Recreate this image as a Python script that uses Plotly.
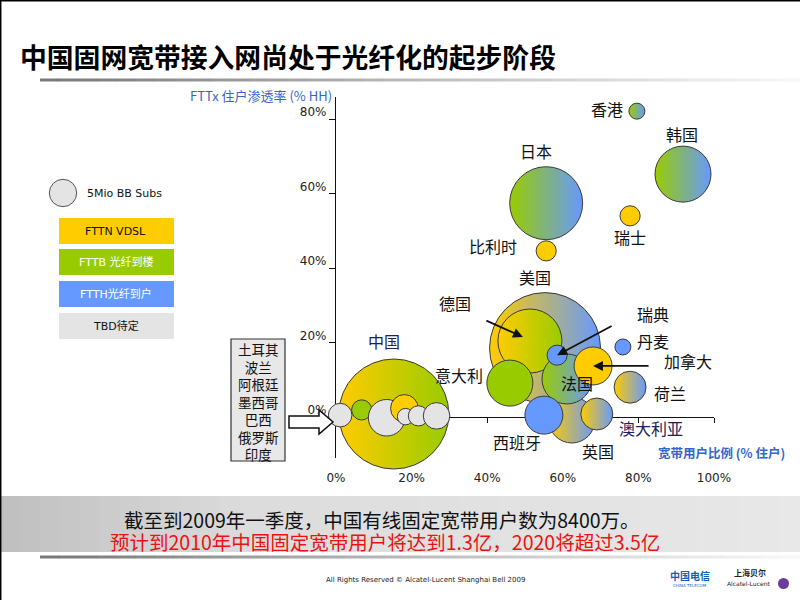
import plotly.graph_objects as go

# ---------------- data ----------------
countries = ["美国", "英国", "德国", "意大利", "法国", "西班牙", "澳大利亚", "加拿大",
             "瑞典", "丹麦", "荷兰", "日本", "比利时", "韩国", "瑞士", "香港", "中国",
             "印度", "俄罗斯", "巴西", "土耳其", "阿根廷", "墨西哥", "波兰"]
bb_share = [55.3, 62.4, 51.3, 46.0, 61.1, 55.0, 69.0, 68.0,
            58.5, 75.9, 77.8, 55.6, 55.6, 91.8, 77.8, 79.6, 15.3,
            1.1, 6.8, 13.4, 18.1, 18.4, 21.8, 26.6]
fttx_share = [18.5, -0.8, 20.4, 9.1, 10.2, 0.5, 0.8, 13.7,
              16.6, 18.8, 8.0, 57.4, 44.6, 65.2, 54.0, 82.1, 0.8,
              0.5, 1.9, -0.2, 2.3, 0.1, 0.3, 0.3]
bb_subs_mio = [82, 14.1, 27.3, 14.1, 16.6, 9.6, 6.8, 9.6,
               2.7, 1.7, 6.8, 35.5, 2.7, 20.9, 2.7, 1.7, 80.6,
               3.7, 2.7, 8.9, 5.1, 1.8, 2.7, 4.7]
tech_left = ["FTTN", "FTTN", "FTTN", "FTTB", "FTTB", "FTTH", "FTTN", "FTTN",
             "FTTH", "FTTH", "FTTN", "FTTB", "FTTN", "FTTB", "FTTN", "FTTB", "FTTN",
             "TBD", "FTTB", "TBD", "FTTN", "TBD", "TBD", "TBD"]
tech_right = ["FTTH", "FTTH", "FTTB", "FTTB", "FTTH", "FTTH", "FTTH", "FTTN",
              "FTTH", "FTTH", "FTTH", "FTTH", "FTTN", "FTTH", "FTTN", "FTTH", "FTTB",
              "TBD", "FTTB", "TBD", "FTTN", "TBD", "TBD", "TBD"]

x_ticks = [0, 20, 40, 60, 80, 100]
x_tick_labels = ["0%", "20%", "40%", "60%", "80%", "100%"]
y_ticks = [0, 20, 40, 60, 80]
y_tick_labels = ["0%", "20%", "40%", "60%", "80%"]

legend_labels = ["FTTN VDSL", "FTTB 光纤到楼", "FTTH光纤到户", "TBD待定"]
legend_techs = ["FTTN", "FTTB", "FTTH", "TBD"]
legend_bubble_mio = 5
other_countries = ["土耳其", "波兰", "阿根廷", "墨西哥", "巴西", "俄罗斯", "印度"]

title_text = "中国固网宽带接入网尚处于光纤化的起步阶段"
y_title = "FTTx 住户渗透率 (% HH)"
x_title = "宽带用户比例 (% 住户)"
note1 = "截至到2009年一季度，中国有线固定宽带用户数为8400万。"
note2 = "预计到2010年中国固定宽带用户将达到1.3亿，2020将超过3.5亿"
footer = "All Rights Reserved © Alcatel-Lucent Shanghai Bell 2009"

# ---------------- styling ----------------
W, H = 800, 600
CJK = "Noto Sans CJK SC"
LAT = "DejaVu Sans"
TECH_COLORS = {"FTTN": "#FFCC00", "FTTB": "#99CC00", "FTTH": "#6699FF", "TBD": "#E4E4E4"}
TECH_TEXT = {"FTTN": "#111111", "FTTB": "#FFFFFF", "FTTH": "#FFFFFF", "TBD": "#111111"}


def px(x):
    return x / W


def py(y):
    return 1 - y / H


def note(x, y, text, size, color, family=CJK, xanchor="center"):
    return dict(x=px(x), y=py(y), xref="paper", yref="paper", xanchor=xanchor,
                yanchor="middle", text=text, showarrow=False,
                font=dict(family=family, size=size, color=color))


# axis geometry (pixels)
X_LEFT, X_RIGHT = 336, 714
Y_TOP, Y_BOT, Y_ZERO, Y_PX_PER = 97, 458, 417, 3.725
y_range = [(Y_ZERO - Y_BOT) / Y_PX_PER, (Y_ZERO - Y_TOP) / Y_PX_PER]
LEG_R = 13.7  # legend bubble radius in px
sizeref = legend_bubble_mio / (2 * LEG_R ** 2)

# label offsets in px (dx, dy-up)
label_off = {
    "香港": (-30, 2), "韩国": (-1, 40), "日本": (-10, 52), "瑞士": (0, -21),
    "比利时": (-53, 5), "美国": (-10, 71), "德国": (-75, 38), "瑞典": (96, 41),
    "丹麦": (30, 6), "加拿大": (95, 5), "荷兰": (40, -6), "意大利": (-51, 8),
    "法国": (10, -4), "西班牙": (-27, -27), "英国": (26, -31), "澳大利亚": (54, -14),
    "中国": (-10, 73),
}
navy_labels = {"中国", "澳大利亚"}
# arrows: country -> (tip dx, tip dy-up, ax, ay)
arrows = {"德国": (-7, 4, -38, -17), "瑞典": (0, 0, 56, -30), "加拿大": (0, 0, 57, 0)}

left_colors = [TECH_COLORS[t] for t in tech_left]
right_colors = [TECH_COLORS[t] for t in tech_right]
grad_types = ["horizontal" if a != b else "none" for a, b in zip(tech_left, tech_right)]

fig = go.Figure()
fig.add_trace(go.Scatter(
    x=bb_share, y=fttx_share, mode="markers", text=countries,
    cliponaxis=False, hoverinfo="text",
    marker=dict(size=bb_subs_mio, sizemode="area", sizeref=sizeref,
                color=left_colors, opacity=1,
                gradient=dict(type=grad_types, color=right_colors),
                line=dict(color="#3A3A3A", width=1)),
    showlegend=False,
))

annotations = []
shapes = []

# country labels
idx = {c: i for i, c in enumerate(countries)}
for c, (dx, dy) in label_off.items():
    i = idx[c]
    annotations.append(dict(
        x=bb_share[i], y=fttx_share[i], xref="x", yref="y", text=c, showarrow=False,
        xanchor="center", yanchor="middle",
        xshift=dx, yshift=dy, font=dict(family=CJK, size=16,
                                        color="#20205A" if c in navy_labels else "#111111")))
for c, (tx, ty, ax, ay) in arrows.items():
    i = idx[c]
    annotations.append(dict(
        x=bb_share[i], y=fttx_share[i], xref="x", yref="y", text="", showarrow=True,
        xshift=tx, yshift=ty, ax=ax, ay=ay, arrowhead=2, arrowsize=1.1,
        arrowwidth=1.8, arrowcolor="#111111"))

# title and axis titles
annotations.append(note(18, 57, "<b>" + title_text + "</b>", 26.8, "#000000", xanchor="left"))
annotations.append(note(334, 95, y_title, 13, "#3366CC", xanchor="right"))
annotations.append(note(721, 452, "<b>" + x_title + "</b>", 12.5, "#3366CC"))

# legend
shapes.append(dict(type="circle", xref="paper", yref="paper",
                   x0=px(63 - LEG_R), x1=px(63 + LEG_R), y0=py(193 + LEG_R), y1=py(193 - LEG_R),
                   fillcolor=TECH_COLORS["TBD"], line=dict(color="#555555", width=1)))
annotations.append(note(85, 193, f"{legend_bubble_mio}Mio BB Subs", 11, "#111111",
                        family=LAT, xanchor="left"))
box_tops = [218, 249, 281, 313]
for lab, tech, top in zip(legend_labels, legend_techs, box_tops):
    shapes.append(dict(type="rect", xref="paper", yref="paper", x0=px(59), x1=px(174),
                       y0=py(top + 26), y1=py(top), fillcolor=TECH_COLORS[tech],
                       line=dict(width=0)))
    annotations.append(note(116, top + 13, lab, 11, TECH_TEXT[tech], family=LAT + ", " + CJK))

# other-countries box and block arrow
shapes.append(dict(type="rect", xref="paper", yref="paper", x0=px(231), x1=px(285),
                   y0=py(461), y1=py(339), fillcolor="#E8E8E8",
                   line=dict(color="#333333", width=1.2)))
annotations.append(note(258, 401, "<br>".join(other_countries), 13.5, "#111111"))
arrow_pts = [(289, 416), (319, 416), (319, 410), (333, 422), (319, 434), (319, 428), (289, 428)]
path = "M " + " L ".join(f"{px(a):.5f},{py(b):.5f}" for a, b in arrow_pts) + " Z"
shapes.append(dict(type="path", xref="paper", yref="paper", path=path,
                   fillcolor="#FFFFFF", line=dict(color="#111111", width=1.5)))


def lerp_gray(t, stops):
    for (t0, g0), (t1, g1) in zip(stops[:-1], stops[1:]):
        if t <= t1:
            f = (t - t0) / (t1 - t0) if t1 > t0 else 0
            g = round(g0 + (g1 - g0) * f)
            return f"rgb({g},{g},{g})"
    g = stops[-1][1]
    return f"rgb({g},{g},{g})"


# gradient rules under title and above footer
N = 40
for yline in (80, 557):
    for k in range(N):
        xa = 40 + (800 - 40) * k / N
        xb = 40 + (800 - 40) * (k + 1) / N + 0.5
        shapes.append(dict(type="rect", xref="paper", yref="paper", x0=px(xa), x1=px(min(xb, 800)),
                           y0=py(yline + 1.5), y1=py(yline - 1.5),
                           fillcolor=lerp_gray(k / N, [(0, 120), (0.5, 190), (1, 250)]),
                           line=dict(width=0), layer="below"))
# bottom grey band
for k in range(N):
    xa = 800 * k / N
    xb = 800 * (k + 1) / N + 0.5
    shapes.append(dict(type="rect", xref="paper", yref="paper", x0=px(xa), x1=px(min(xb, 800)),
                       y0=py(552), y1=py(496),
                       fillcolor=lerp_gray(k / N, [(0, 192), (0.3, 220), (1, 232)]),
                       line=dict(width=0), layer="below"))
annotations.append(note(382, 519, note1, 19.5, "#111111"))
annotations.append(note(385, 541, note2, 19.5, "#EE1111"))
annotations.append(note(425, 580, footer, 7, "#222222", family=LAT))
annotations.append(note(690, 575, "<b>中国电信</b>", 10, "#1060B0"))
annotations.append(note(690, 585, "CHINA TELECOM", 4, "#1060B0", family=LAT))
annotations.append(note(750, 572, "<b>上海贝尔</b>", 8, "#222222"))
annotations.append(note(748, 583, "Alcatel-Lucent", 6, "#222222", family=LAT))
shapes.append(dict(type="circle", xref="paper", yref="paper", x0=px(778), x1=px(789),
                   y0=py(589), y1=py(578), fillcolor="#6A3D9A", line=dict(width=0)))

# slide border (top & left)
shapes.append(dict(type="line", xref="paper", yref="paper", x0=0, x1=1, y0=py(0.7), y1=py(0.7),
                   line=dict(color="#000000", width=1.5)))
shapes.append(dict(type="line", xref="paper", yref="paper", x0=px(0.7), x1=px(0.7), y0=0, y1=1,
                   line=dict(color="#000000", width=1.5)))

fig.update_layout(
    width=W, height=H, margin=dict(l=0, r=0, t=0, b=0, pad=0, autoexpand=False),
    paper_bgcolor="#FFFFFF", plot_bgcolor="rgba(0,0,0,0)",
    showlegend=False,
    xaxis=dict(domain=[px(X_LEFT), px(X_RIGHT)], range=[0, 100], anchor="free",
               position=py(Y_ZERO), showline=True, linecolor="#111111", linewidth=1.3,
               ticks="outside", ticklen=5, tickcolor="#111111", tickwidth=1.3,
               tickvals=x_ticks, ticktext=x_tick_labels, ticklabelstandoff=44,
               tickfont=dict(family=LAT, size=12, color="#222222"),
               showgrid=False, zeroline=False, layer="below traces", automargin=False),
    yaxis=dict(domain=[py(Y_BOT), py(Y_TOP)], range=y_range, anchor="x",
               showline=True, linecolor="#111111", linewidth=1.3,
               ticks="outside", ticklen=6, tickcolor="#111111", tickwidth=1.3,
               tickvals=y_ticks, ticktext=y_tick_labels, ticklabelshift=-7,
               tickfont=dict(family=LAT, size=12, color="#222222"),
               showgrid=False, zeroline=False, layer="below traces", automargin=False),
    annotations=annotations, shapes=shapes,
)

fig.write_html("out.html", config={"displayModeBar": False},
               post_script="document.body.style.margin='0px';")
